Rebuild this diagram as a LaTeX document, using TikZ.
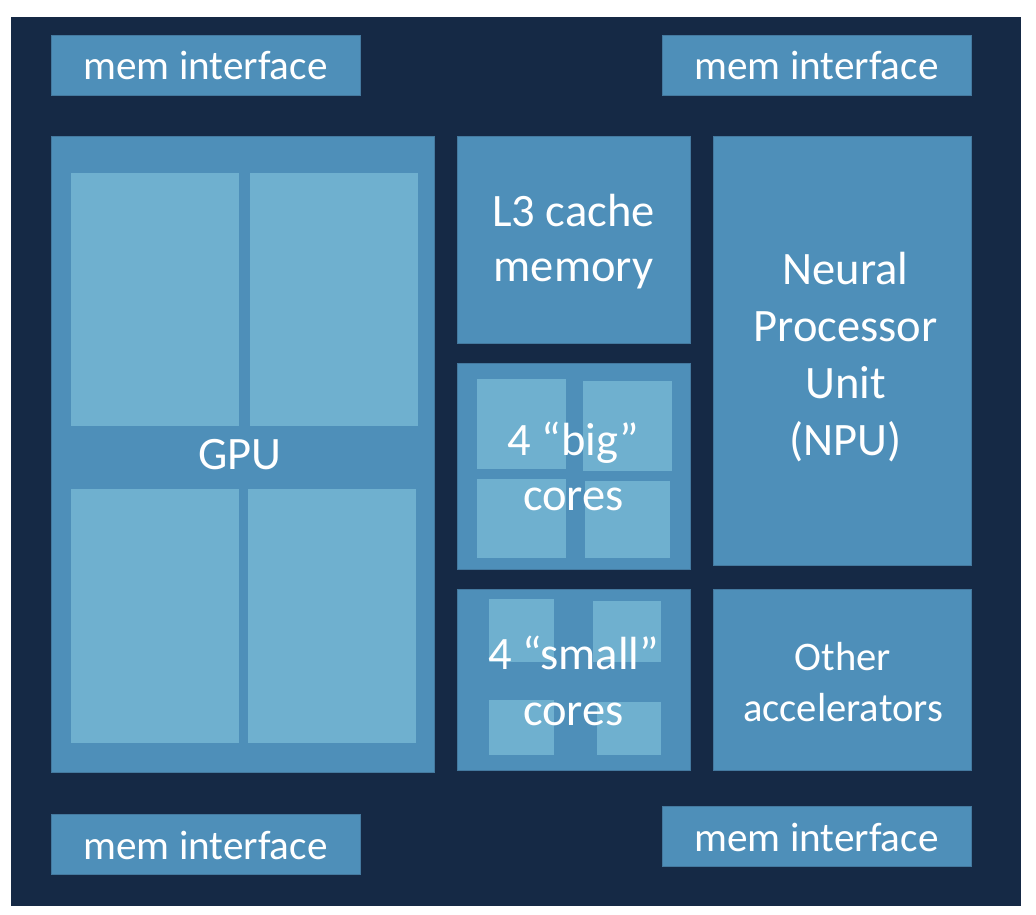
\documentclass[tikz,border=0pt]{standalone}
\usepackage{fontspec}
\setmainfont{Carlito}
\definecolor{navy}{HTML}{152945}
\definecolor{midblue}{HTML}{4E8FB9}
\definecolor{lightblue}{HTML}{6FB0CF}
\definecolor{edgeblue}{HTML}{44799F}
\begin{document}
\begin{tikzpicture}[x=1pt,y=-1pt,
  blk/.style={fill=midblue, draw=edgeblue, line width=0.6pt, inner sep=0pt, outer sep=0pt, anchor=north west},
  sub/.style={fill=lightblue, draw=none, inner sep=0pt, outer sep=0pt, anchor=north west},
  lbl/.style={text=white, align=center, inner sep=0pt, anchor=base},
  big/.style={font=\fontsize{46.5}{57}\selectfont},
  mid/.style={font=\fontsize{41.2}{50}\selectfont},
  ]
\useasboundingbox[fill=white] (0,0) rectangle (1036,915);
\fill[navy] (11,17) rectangle (1021,906);
% memory interfaces
\node[blk, minimum width=309pt, minimum height=60pt] (memtl) at (51,35) {};
\node[blk, minimum width=309pt, minimum height=60pt] (memtr) at (662,35) {};
\node[blk, minimum width=309pt, minimum height=60pt] (membl) at (51,814) {};
\node[blk, minimum width=309pt, minimum height=60pt] (membr) at (662,806) {};
% GPU
\node[blk, minimum width=383pt, minimum height=636pt] (gpu) at (51,136.5) {};
\node[sub, minimum width=168pt, minimum height=253pt] (gpu1) at (70.7,172.5) {};
\node[sub, minimum width=168pt, minimum height=253pt] (gpu2) at (250,172.5) {};
\node[sub, minimum width=168pt, minimum height=253.5pt] (gpu3) at (70.7,489) {};
\node[sub, minimum width=168pt, minimum height=253.5pt] (gpu4) at (248,489) {};
% L3 cache
\node[blk, minimum width=233pt, minimum height=207pt] (l3) at (457,136.5) {};
% big cores
\node[blk, minimum width=233pt, minimum height=206pt] (bigc) at (457,363.3) {};
\node[sub, minimum width=89pt, minimum height=90.3pt] (big1) at (476.7,379) {};
\node[sub, minimum width=88.7pt, minimum height=90.3pt] (big2) at (583.3,381) {};
\node[sub, minimum width=89pt, minimum height=78.4pt] (big3) at (476.7,479.3) {};
\node[sub, minimum width=85pt, minimum height=76.4pt] (big4) at (585,481.3) {};
% small cores
\node[blk, minimum width=233pt, minimum height=181.4pt] (smallc) at (457,589.3) {};
\node[sub, minimum width=65.3pt, minimum height=62.4pt] (sm1) at (488.7,599.3) {};
\node[sub, minimum width=67.4pt, minimum height=60.4pt] (sm2) at (593.3,601.3) {};
\node[sub, minimum width=65.3pt, minimum height=54.7pt] (sm3) at (488.7,700) {};
\node[sub, minimum width=63.7pt, minimum height=53pt] (sm4) at (597,701.7) {};
% NPU and others
\node[blk, minimum width=258pt, minimum height=429pt] (npu) at (713.3,136.5) {};
\node[blk, minimum width=258pt, minimum height=181.4pt] (other) at (713.3,589.3) {};
% labels (anchor base = baseline of last line)
\node[lbl, mid] (tmemtl) at (205.5,80) {mem interface};
\node[lbl, mid] (tmemtr) at (816.5,80) {mem interface};
\node[lbl, mid] (tmembl) at (205.5,859) {mem interface};
\node[lbl, mid] (tmembr) at (816.5,851) {mem interface};
\node[lbl, big] (tgpu) at (240,469) {GPU};
\node[lbl, font=\fontsize{46.5}{55}\selectfont] (tl3) at (573.5,281) {L3 cache\\memory};
\node[lbl, font=\fontsize{46.5}{55}\selectfont] (tbig) at (573.5,510) {4 “big”\\cores};
\node[lbl, font=\fontsize{46.5}{56}\selectfont] (tsmall) at (573.5,725) {4 “small”\\cores};
\node[lbl, big] (tnpu) at (845.5,455) {Neural\\Processor\\Unit\\(NPU)};
\node[lbl, font=\fontsize{40.6}{51}\selectfont] (tother) at (843,721) {Other\\accelerators};
\end{tikzpicture}
\end{document}
